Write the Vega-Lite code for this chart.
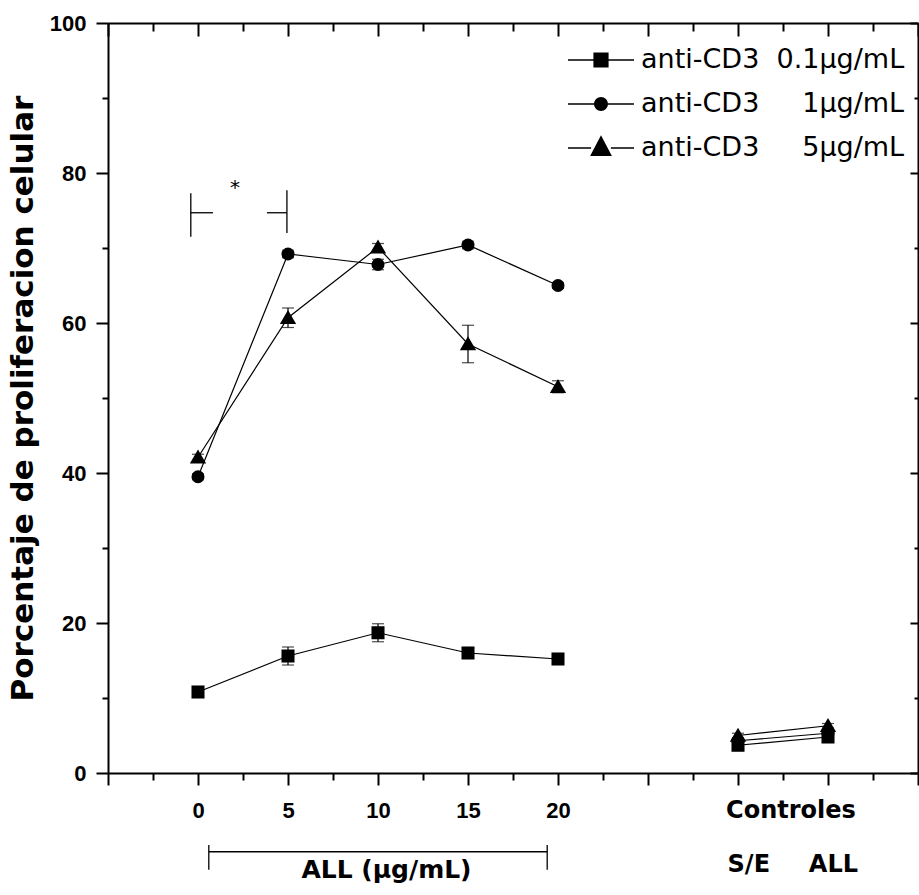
{
  "$schema": "https://vega.github.io/schema/vega-lite/v6.json",
  "autosize": {"type": "none"},
  "width": 810,
  "height": 750,
  "padding": {"left": 108, "top": 23, "right": 1, "bottom": 122},
  "background": "white",
  "config": {
    "view": {"stroke": null},
    "axis": {"domainColor": "black", "domainWidth": 2, "tickColor": "black", "tickWidth": 2, "grid": false, "labelColor": "black", "titleColor": "black"}
  },
  "datasets": {
    "main": [
      {"x": 0, "y": 10.8, "err": 0.3, "serie": "anti-CD3\u00a0\u00a00.1\u00b5g/mL", "grp": "ALL"},
      {"x": 5, "y": 15.6, "err": 1.2, "serie": "anti-CD3\u00a0\u00a00.1\u00b5g/mL", "grp": "ALL"},
      {"x": 10, "y": 18.7, "err": 1.2, "serie": "anti-CD3\u00a0\u00a00.1\u00b5g/mL", "grp": "ALL"},
      {"x": 15, "y": 16.0, "err": 0.4, "serie": "anti-CD3\u00a0\u00a00.1\u00b5g/mL", "grp": "ALL"},
      {"x": 20, "y": 15.2, "err": 0.5, "serie": "anti-CD3\u00a0\u00a00.1\u00b5g/mL", "grp": "ALL"},
      {"x": 30, "y": 3.7, "err": 0.3, "serie": "anti-CD3\u00a0\u00a00.1\u00b5g/mL", "grp": "Controles"},
      {"x": 35, "y": 4.8, "err": 0.3, "serie": "anti-CD3\u00a0\u00a00.1\u00b5g/mL", "grp": "Controles"},
      {"x": 0, "y": 39.5, "err": 0.4, "serie": "anti-CD3\u00a0\u00a0\u00a0\u00a0\u00a01\u00b5g/mL", "grp": "ALL"},
      {"x": 5, "y": 69.2, "err": 0.5, "serie": "anti-CD3\u00a0\u00a0\u00a0\u00a0\u00a01\u00b5g/mL", "grp": "ALL"},
      {"x": 10, "y": 67.8, "err": 0.7, "serie": "anti-CD3\u00a0\u00a0\u00a0\u00a0\u00a01\u00b5g/mL", "grp": "ALL"},
      {"x": 15, "y": 70.4, "err": 0.5, "serie": "anti-CD3\u00a0\u00a0\u00a0\u00a0\u00a01\u00b5g/mL", "grp": "ALL"},
      {"x": 20, "y": 65.0, "err": 0.4, "serie": "anti-CD3\u00a0\u00a0\u00a0\u00a0\u00a01\u00b5g/mL", "grp": "ALL"},
      {"x": 30, "y": 4.3, "err": 0.3, "serie": "anti-CD3\u00a0\u00a0\u00a0\u00a0\u00a01\u00b5g/mL", "grp": "Controles"},
      {"x": 35, "y": 5.3, "err": 0.3, "serie": "anti-CD3\u00a0\u00a0\u00a0\u00a0\u00a01\u00b5g/mL", "grp": "Controles"},
      {"x": 0, "y": 42.1, "err": 0.4, "serie": "anti-CD3\u00a0\u00a0\u00a0\u00a0\u00a05\u00b5g/mL", "grp": "ALL"},
      {"x": 5, "y": 60.7, "err": 1.3, "serie": "anti-CD3\u00a0\u00a0\u00a0\u00a0\u00a05\u00b5g/mL", "grp": "ALL"},
      {"x": 10, "y": 70.1, "err": 0.5, "serie": "anti-CD3\u00a0\u00a0\u00a0\u00a0\u00a05\u00b5g/mL", "grp": "ALL"},
      {"x": 15, "y": 57.2, "err": 2.5, "serie": "anti-CD3\u00a0\u00a0\u00a0\u00a0\u00a05\u00b5g/mL", "grp": "ALL"},
      {"x": 20, "y": 51.5, "err": 0.8, "serie": "anti-CD3\u00a0\u00a0\u00a0\u00a0\u00a05\u00b5g/mL", "grp": "ALL"},
      {"x": 30, "y": 5.0, "err": 0.3, "serie": "anti-CD3\u00a0\u00a0\u00a0\u00a0\u00a05\u00b5g/mL", "grp": "Controles"},
      {"x": 35, "y": 6.3, "err": 0.3, "serie": "anti-CD3\u00a0\u00a0\u00a0\u00a0\u00a05\u00b5g/mL", "grp": "Controles"}
    ],
    "notes": [
      {"role": "group", "label": "Controles", "x": 32.94, "y": -6.0},
      {"role": "group", "label": "S/E", "x": 30.6, "y": -13.2},
      {"role": "group", "label": "ALL", "x": 35.3, "y": -13.2},
      {"role": "range", "label": "ALL (\u00b5g/mL)", "x": 10.47, "y": -14.0},
      {"role": "star", "label": "*", "x": 2.05, "y": 78.0}
    ],
    "segs": [
      {"x": 0.6, "x2": 19.4, "y": -10.5, "y2": -10.5},
      {"x": 0.6, "x2": 0.6, "y": -9.6, "y2": -12.9},
      {"x": 19.4, "x2": 19.4, "y": -9.6, "y2": -12.9},
      {"x": -0.4, "x2": -0.4, "y": 77.3, "y2": 71.5},
      {"x": -0.4, "x2": 0.83, "y": 74.7, "y2": 74.7},
      {"x": 4.94, "x2": 4.94, "y": 77.7, "y2": 72.0},
      {"x": 3.83, "x2": 4.94, "y": 74.7, "y2": 74.7}
    ]
  },
  "layer": [
    {
      "data": {"name": "segs"},
      "mark": {"type": "rule", "color": "black", "strokeWidth": 1.3},
      "encoding": {
        "x": {"field": "x", "type": "quantitative", "scale": {"domain": [-5, 40], "nice": false, "zero": false}, "axis": null},
        "x2": {"field": "x2"},
        "y": {"field": "y", "type": "quantitative", "scale": {"domain": [0, 100], "nice": false}, "axis": null},
        "y2": {"field": "y2"}
      }
    },
    {
      "data": {"name": "notes"},
      "transform": [{"filter": "datum.role == 'group'"}],
      "mark": {"type": "text", "font": "DejaVu Sans", "fontWeight": "bold", "fontSize": 24, "align": "center", "baseline": "alphabetic", "color": "black"},
      "encoding": {
        "x": {"field": "x", "type": "quantitative", "scale": {"domain": [-5, 40], "nice": false, "zero": false}, "axis": null},
        "y": {"field": "y", "type": "quantitative", "scale": {"domain": [0, 100], "nice": false}, "axis": null},
        "text": {"field": "label"}
      }
    },
    {
      "data": {"name": "notes"},
      "transform": [{"filter": "datum.role == 'range'"}],
      "mark": {"type": "text", "font": "DejaVu Sans", "fontWeight": "bold", "fontSize": 25, "align": "center", "baseline": "alphabetic", "color": "black"},
      "encoding": {
        "x": {"field": "x", "type": "quantitative", "scale": {"domain": [-5, 40], "nice": false, "zero": false}, "axis": null},
        "y": {"field": "y", "type": "quantitative", "scale": {"domain": [0, 100], "nice": false}, "axis": null},
        "text": {"field": "label"}
      }
    },
    {
      "data": {"name": "notes"},
      "transform": [{"filter": "datum.role == 'star'"}],
      "mark": {"type": "text", "font": "DejaVu Sans", "fontSize": 20, "align": "center", "baseline": "middle", "color": "black"},
      "encoding": {
        "x": {"field": "x", "type": "quantitative", "scale": {"domain": [-5, 40], "nice": false, "zero": false}, "axis": null},
        "y": {"field": "y", "type": "quantitative", "scale": {"domain": [0, 100], "nice": false}, "axis": null},
        "text": {"field": "label"}
      }
    },
    {
      "data": {"name": "main"},
      "mark": {"type": "line", "color": "black", "strokeWidth": 1.2},
      "encoding": {
        "x": {"field": "x", "type": "quantitative", "scale": {"domain": [-5, 40], "nice": false, "zero": false},
          "axis": {"orient": "bottom", "title": null, "values": [-5, -2.5, 0, 2.5, 5, 7.5, 10, 12.5, 15, 17.5, 20, 22.5, 25, 27.5, 30, 32.5, 35, 37.5, 40], "format": "d",
            "labelExpr": "datum.value >= 0 && datum.value <= 20 && datum.value % 5 == 0 ? datum.label : ''",
            "tickSize": {"condition": {"test": "datum.value % 5 == 0", "value": 12}, "value": 7},
            "labelFont": "Liberation Sans Narrow, Liberation Sans", "labelFontWeight": "bold", "labelFontSize": 22, "labelPadding": 15}},
        "y": {"field": "y", "type": "quantitative", "scale": {"domain": [0, 100], "nice": false},
          "axis": {"orient": "left", "title": "Porcentaje de proliferacion celular", "values": [0, 10, 20, 30, 40, 50, 60, 70, 80, 90, 100], "format": "d",
            "labelExpr": "datum.value % 20 == 0 ? datum.label : ''",
            "tickSize": {"condition": {"test": "datum.value % 20 == 0", "value": 12}, "value": 6},
            "labelFont": "Liberation Sans Narrow, Liberation Sans", "labelFontWeight": "bold", "labelFontSize": 22, "labelPadding": 10,
            "titleFont": "DejaVu Sans", "titleFontWeight": "bold", "titleFontSize": 31, "titlePadding": 10}},
        "detail": [{"field": "serie"}, {"field": "grp"}]
      }
    },
    {
      "data": {"name": "main"},
      "mark": {"type": "errorbar", "color": "black", "thickness": 1.2, "ticks": {"size": 12, "color": "black", "thickness": 1.2}},
      "encoding": {
        "x": {"field": "x", "type": "quantitative", "scale": {"domain": [-5, 40], "nice": false, "zero": false}, "axis": null},
        "y": {"field": "y", "type": "quantitative", "scale": {"domain": [0, 100], "nice": false}, "axis": null},
        "yError": {"field": "err"}
      }
    },
    {
      "data": {"name": "main"},
      "mark": {"type": "point", "filled": true, "color": "black", "opacity": 1, "size": 170},
      "encoding": {
        "x": {"field": "x", "type": "quantitative", "scale": {"domain": [-5, 40], "nice": false, "zero": false},
          "axis": {"orient": "top", "title": null, "labels": false, "values": [-5, -2.5, 0, 2.5, 5, 7.5, 10, 12.5, 15, 17.5, 20, 22.5, 25, 27.5, 30, 32.5, 35, 37.5, 40],
            "tickSize": {"condition": {"test": "datum.value % 5 == 0", "value": -13}, "value": -8}}},
        "y": {"field": "y", "type": "quantitative", "scale": {"domain": [0, 100], "nice": false},
          "axis": {"orient": "right", "title": null, "labels": false, "values": [0, 10, 20, 30, 40, 50, 60, 70, 80, 90, 100],
            "tickSize": {"condition": {"test": "datum.value % 20 == 0", "value": -8}, "value": -4}}},
        "shape": {"field": "serie", "type": "nominal",
          "scale": {"domain": ["anti-CD3\u00a0\u00a00.1\u00b5g/mL", "anti-CD3\u00a0\u00a0\u00a0\u00a0\u00a01\u00b5g/mL", "anti-CD3\u00a0\u00a0\u00a0\u00a0\u00a05\u00b5g/mL"], "range": ["square", "circle", "M0,-1.2L1.25,0.95L-1.25,0.95Z"]},
          "legend": null}
      }
    },
    {
      "data": {"name": "main"},
      "transform": [{"filter": "false"}],
      "mark": {"type": "point", "filled": true, "fill": "black", "opacity": 1, "size": 4356},
      "encoding": {
        "x": {"field": "x", "type": "quantitative", "scale": {"domain": [-5, 40], "nice": false, "zero": false}, "axis": null},
        "y": {"field": "y", "type": "quantitative", "scale": {"domain": [0, 100], "nice": false}, "axis": null},
        "shape": {"field": "serie", "type": "nominal",
          "scale": {"domain": ["anti-CD3\u00a0\u00a00.1\u00b5g/mL", "anti-CD3\u00a0\u00a0\u00a0\u00a0\u00a01\u00b5g/mL", "anti-CD3\u00a0\u00a0\u00a0\u00a0\u00a05\u00b5g/mL"],
            "range": [
              "M-1,-0.025H-0.2V0.025H-1ZM0.2,-0.025H1V0.025H0.2ZM-0.23,-0.23H0.23V0.23H-0.23Z",
              "M-1,-0.025H-0.19V0.025H-1ZM0.19,-0.025H1V0.025H0.19ZM0.21,0A0.21,0.21,0,1,1,-0.21,0A0.21,0.21,0,1,1,0.21,0Z",
              "M-1,-0.025H-0.3V0.025H-1ZM0.3,-0.025H1V0.025H0.3ZM0,-0.39L0.33,0.24L-0.33,0.24Z"]},
          "legend": {"title": null, "orient": "none", "legendX": 459, "legendY": 15, "labelFont": "DejaVu Sans", "labelFontSize": 27, "labelColor": "black", "labelLimit": 0,
            "symbolSize": 4356, "symbolFillColor": "black", "symbolOpacity": 1,
            "clipHeight": 44, "rowPadding": 0, "labelOffset": 6, "padding": 0}}
      }
    }
  ],
  "resolve": {"axis": {"x": "independent", "y": "independent"}, "scale": {"shape": "independent"}, "legend": {"shape": "independent"}}
}
